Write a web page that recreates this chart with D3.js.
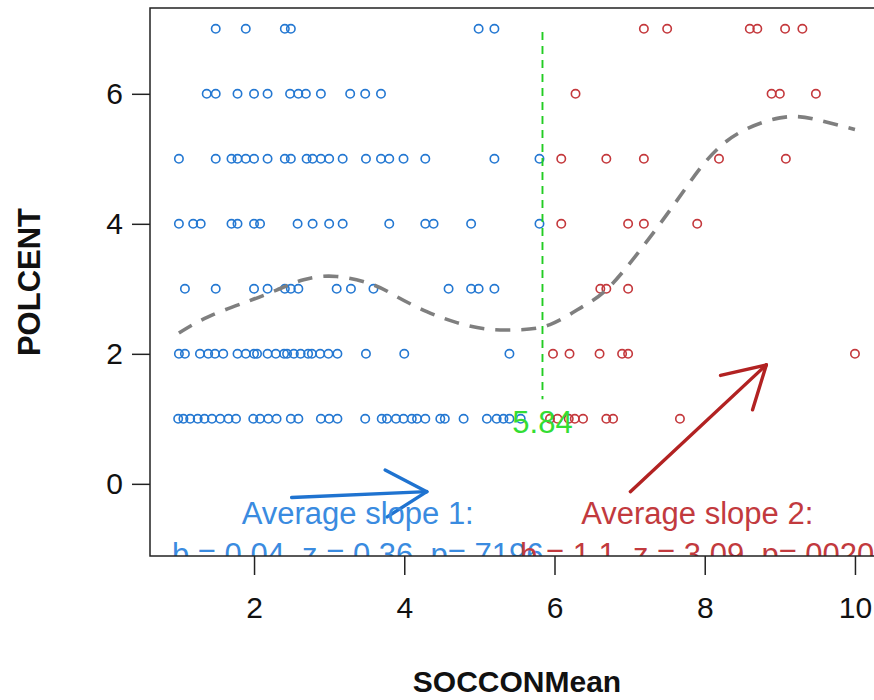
<!DOCTYPE html>
<html><head><meta charset="utf-8">
<script src="https://cdn.jsdelivr.net/npm/d3@7"></script>
<style>
html,body{margin:0;padding:0;background:#fff;}
svg{display:block;font-family:"Liberation Sans",Arial,sans-serif;}
</style></head>
<body>
<svg id="chart" width="874" height="700"></svg>
<script>
// ---- data (SOCCONMean values per POLCENT level) ----
const xTicks = [2, 4, 6, 8, 10];
const yTicks = [0, 2, 4, 6];
const blueLevel7 = [1.49, 1.89, 2.41, 2.49, 4.99, 5.20];
const blueLevel6 = [1.37, 1.49, 1.78, 2.0, 2.18, 2.48, 2.59, 2.69, 2.89, 3.28, 3.48, 3.69];
const blueLevel5 = [1.00, 1.49, 1.70, 1.78, 1.89, 2.0, 2.18, 2.41, 2.49, 2.70, 2.78, 2.89, 3.00, 3.18, 3.49, 3.69, 3.80, 3.99, 4.28, 5.20, 5.80];
const blueLevel4 = [1.00, 1.19, 1.29, 1.70, 1.78, 2.0, 2.08, 2.58, 2.78, 3.0, 3.18, 3.80, 4.28, 4.39, 4.89, 5.80];
const blueLevel3 = [1.08, 1.49, 2.0, 2.18, 2.41, 2.49, 2.59, 3.10, 3.29, 3.59, 4.59, 4.89, 4.99, 5.20];
const blueLevel2 = [1.0, 1.08, 1.28, 1.39, 1.48, 1.59, 1.78, 1.89, 2.0, 2.04, 2.18, 2.29, 2.40, 2.44, 2.53, 2.62, 2.72, 2.77, 2.88, 2.99, 3.11, 3.49, 4.0, 5.40];
const blueLevel1 = [0.99, 1.06, 1.15, 1.25, 1.34, 1.44, 1.55, 1.66, 1.76, 1.99, 2.08, 2.19, 2.30, 2.49, 2.59, 2.89, 3.0, 3.11, 3.48, 3.70, 3.77, 3.89, 3.99, 4.10, 4.17, 4.28, 4.48, 4.54, 4.79, 5.10, 5.23, 5.32, 5.40, 5.55];
const redLevel7 = [7.19, 7.50, 8.60, 8.70, 9.07, 9.30];
const redLevel6 = [6.28, 8.89, 9.00, 9.48];
const redLevel5 = [6.09, 6.69, 7.19, 8.19, 9.08];
const redLevel4 = [6.09, 6.98, 7.19, 7.90];
const redLevel3 = [6.61, 6.69, 6.98];
const redLevel2 = [5.98, 6.20, 6.60, 6.90, 6.98, 10.0];
const redLevel1 = [5.94, 6.04, 6.19, 6.27, 6.38, 6.69, 6.78, 7.67];
// smoothed trend (loess-like)
const curveX = [1.0, 1.39, 1.90, 2.30, 2.66, 3.10, 3.59, 3.90, 4.30, 4.70, 5.10, 5.52, 5.94, 6.38, 6.78, 7.36, 7.76, 8.29, 9.0, 9.5, 10.0];
const curveY = [2.32, 2.57, 2.80, 2.98, 3.14, 3.19, 3.06, 2.88, 2.65, 2.48, 2.38, 2.37, 2.45, 2.73, 3.09, 3.93, 4.57, 5.27, 5.63, 5.60, 5.45];
const breakPoint = 5.84;
const slope1 = {label: "Average slope 1:", stats: "b = 0.04, z = 0.36, p=.7196"};
const slope2 = {label: "Average slope 2:", stats: "b = 1.1, z = 3.09, p=.0020"};
const arrow1 = [[2.50, -0.21], [4.30, -0.12]];
const arrow2 = [[7.01, -0.12], [8.82, 1.83]];

// ---- build ----
const svg = d3.select("#chart");
const L = 150, R = 882, T = 8, B = 556;
const x = d3.scaleLinear().domain([0.615, 10.36]).range([L, R]);
const y = d3.scaleLinear().domain([-1.11, 7.32]).range([B, T]);

const blueCol = "#2478d2", redCol = "#c4383c";
const toPts = (arr, lev) => arr.map(v => ({x: v, y: lev}));
const bluePts = [].concat(toPts(blueLevel1,1),toPts(blueLevel2,2),toPts(blueLevel3,3),toPts(blueLevel4,4),toPts(blueLevel5,5),toPts(blueLevel6,6),toPts(blueLevel7,7));
const redPts = [].concat(toPts(redLevel1,1),toPts(redLevel2,2),toPts(redLevel3,3),toPts(redLevel4,4),toPts(redLevel5,5),toPts(redLevel6,6),toPts(redLevel7,7));

svg.append("defs").append("clipPath").attr("id","clip")
  .append("rect").attr("x",L).attr("y",T).attr("width",R-L).attr("height",B-T);

const plot = svg.append("g").attr("clip-path","url(#clip)");

plot.selectAll("circle.b").data(bluePts).enter().append("circle")
  .attr("cx", d => x(d.x)).attr("cy", d => y(d.y)).attr("r", 4.2)
  .attr("fill","none").attr("stroke", blueCol).attr("stroke-width",1.6);
plot.selectAll("circle.r").data(redPts).enter().append("circle")
  .attr("cx", d => x(d.x)).attr("cy", d => y(d.y)).attr("r", 4.2)
  .attr("fill","none").attr("stroke", redCol).attr("stroke-width",1.6);

// trend curve
const line = d3.line().x(d => x(d[0])).y(d => y(d[1])).curve(d3.curveNatural);
plot.append("path").datum(curveX.map((v,i)=>[v,curveY[i]]))
  .attr("d", line).attr("fill","none").attr("stroke","#7f7f7f")
  .attr("stroke-width",3.6).attr("stroke-dasharray","15,11");

// breakpoint line
plot.append("line").attr("x1",x(breakPoint)).attr("x2",x(breakPoint))
  .attr("y1",y(6.95)).attr("y2",y(1.3))
  .attr("stroke","#22cc22").attr("stroke-width",1.9).attr("stroke-dasharray","8,6");
plot.append("text").attr("x",x(breakPoint)).attr("y",y(0.95)).attr("dy","0.35em")
  .attr("text-anchor","middle").attr("font-size",31).attr("fill","#33dd33").text(breakPoint.toFixed(2));

// arrows
function arrow(a, col){
  const x0=x(a[0][0]), y0=y(a[0][1]), x1=x(a[1][0]), y1=y(a[1][1]);
  const ang = Math.atan2(y0-y1, x0-x1), len = 47, spread = Math.PI/6;
  const g = plot.append("g").attr("stroke",col).attr("stroke-width",3.4).attr("fill","none").attr("stroke-linecap","round");
  g.append("line").attr("x1",x0).attr("y1",y0).attr("x2",x1).attr("y2",y1);
  [ang+spread, ang-spread].forEach(t => g.append("line").attr("x1",x1).attr("y1",y1)
     .attr("x2",x1+len*Math.cos(t)).attr("y2",y1+len*Math.sin(t)));
}
arrow(arrow1, "#1f73d0");
arrow(arrow2, "#b22222");

// annotation texts
function note(s, cx, col){
  plot.append("text").attr("x",x(cx)).attr("y",y(-0.62)).attr("text-anchor","middle")
    .attr("font-size",31).attr("fill",col).text(s.label);
  plot.append("text").attr("x",x(cx)).attr("y",y(-1.25)).attr("text-anchor","middle")
    .attr("font-size",31).attr("fill",col).text(s.stats);
}
note(slope1, 3.38, "#3a8be0");
note(slope2, 7.90, "#c23a3e");

// box
svg.append("rect").attr("x",L).attr("y",T).attr("width",R-L).attr("height",B-T)
  .attr("fill","none").attr("stroke","#222").attr("stroke-width",1.5);

// axes
const xAxis = svg.append("g").attr("transform",`translate(0,${B})`)
  .call(d3.axisBottom(x).tickValues(xTicks).tickSize(19).tickPadding(22).tickFormat(d3.format("d")));
const yAxis = svg.append("g").attr("transform",`translate(${L},0)`)
  .call(d3.axisLeft(y).tickValues(yTicks).tickSize(18).tickPadding(9).tickFormat(d3.format("d")));
[xAxis,yAxis].forEach(g=>{
  g.select(".domain").remove();
  g.selectAll("line").attr("stroke","#222").attr("stroke-width",1.5);
  g.selectAll("text").attr("font-size",30).attr("fill","#111").attr("font-family","Liberation Sans, Arial, sans-serif");
});

svg.append("text").attr("x",517).attr("y",692).attr("text-anchor","middle")
  .attr("font-size",30).attr("font-weight","bold").attr("fill","#111").text("SOCCONMean");
svg.append("text").attr("transform","translate(40,282) rotate(-90)").attr("text-anchor","middle")
  .attr("font-size",31).attr("font-weight","bold").attr("fill","#111").text("POLCENT");
</script>
</body></html>
